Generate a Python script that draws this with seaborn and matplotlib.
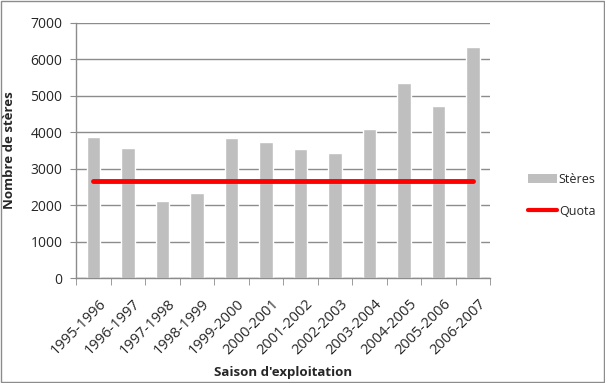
import numpy as np
import pandas as pd
import seaborn as sns
import matplotlib.pyplot as plt
import matplotlib.transforms as mtransforms
from matplotlib.patches import Patch
from matplotlib.lines import Line2D

seasons = ['1995-1996', '1996-1997', '1997-1998', '1998-1999', '1999-2000', '2000-2001',
           '2001-2002', '2002-2003', '2003-2004', '2004-2005', '2005-2006', '2006-2007']
steres = [3880, 3580, 2110, 2340, 3855, 3745, 3545, 3440, 4095, 5360, 4730, 6350]
quota = [2650] * 12

df = pd.DataFrame({'Saison': seasons, 'Steres': steres, 'Quota': quota})

sns.set_style('white')
plt.rcParams['font.family'] = ['Open Sans', 'DejaVu Sans']

fig = plt.figure(figsize=(6.05, 3.83), dpi=100)
ax = fig.add_axes([0.126, 0.274, 0.684, 0.666])

sns.barplot(data=df, x='Saison', y='Steres', color='#bfbfbf', width=0.39,
            saturation=1, ax=ax)
sns.lineplot(data=df, x='Saison', y='Quota', color='#ff0000', linewidth=3.5,
             ax=ax, sort=False)

ax.set_ylim(0, 7000)
ax.set_xlim(-0.5, 11.5)
ax.set_yticks(range(0, 7001, 1000))
ax.yaxis.grid(True, color='#8c8c8c', linewidth=1)
ax.set_axisbelow(True)
for s in ['top', 'right']:
    ax.spines[s].set_visible(False)
for s in ['left', 'bottom']:
    ax.spines[s].set_color('#8c8c8c')
    ax.spines[s].set_linewidth(1)

ax.tick_params(axis='y', labelsize=10, length=4, color='#8c8c8c', left=True, pad=6)
ax.tick_params(axis='x', which='major', length=0, labelsize=10.5, pad=13)
ax.set_xticks(np.arange(-0.5, 12, 1), minor=True)
ax.tick_params(axis='x', which='minor', length=5, color='#8c8c8c', bottom=True)
shift = mtransforms.ScaledTranslation(5 / 100, 0, fig.dpi_scale_trans)
for lab in ax.get_xticklabels():
    lab.set_rotation(45)
    lab.set_ha('right')
    lab.set_rotation_mode('anchor')
    lab.set_transform(lab.get_transform() + shift)

ax.set_xlabel("Saison d'exploitation", fontsize=9.5, fontweight='bold', labelpad=6)
ax.set_ylabel('Nombre de stères', fontsize=9.5, fontweight='bold', labelpad=10)

handles = [Patch(facecolor='#bfbfbf', edgecolor='none', label='Stères'),
           Line2D([0], [0], color='#ff0000', linewidth=3, label='Quota')]
fig.legend(handles=handles, loc='center left', bbox_to_anchor=(0.873, 0.49),
           frameon=False, fontsize=9, labelspacing=1.5, handlelength=2.3,
           handletextpad=0.15, borderpad=0, borderaxespad=0)

fig.patches.append(plt.Rectangle((0.002, 0.003), 0.996, 0.994, transform=fig.transFigure,
                                 fill=False, edgecolor='#8c8c8c', linewidth=1))

fig.savefig('out.png', dpi=100)
